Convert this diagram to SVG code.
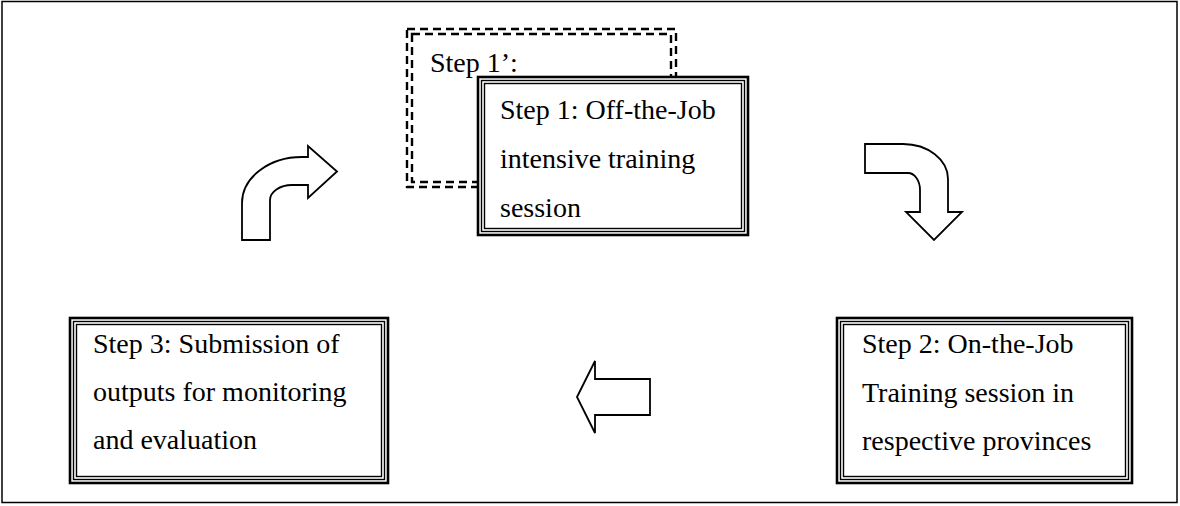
<svg xmlns="http://www.w3.org/2000/svg" width="1180" height="506" viewBox="0 0 1180 506">
<style>
.frame{fill:none;stroke:#000;stroke-width:1.5}
.dash{fill:none;stroke:#000;stroke-width:2.4;stroke-dasharray:8 5}
.o{fill:#fff;stroke:#000;stroke-width:2.6}
.m{fill:none;stroke:#000;stroke-width:1.4}
.i{fill:none;stroke:#000;stroke-width:1.4}
.arrow{fill:#fff;stroke:#000;stroke-width:1.8;stroke-linejoin:miter}
text{font-family:"Liberation Serif","Times New Roman",serif;font-size:28px;fill:#000}
</style>
<rect class="frame" x="2" y="1.5" width="1175" height="501"/>
<g id="step1prime">
<rect class="dash" x="407" y="29" width="269" height="158"/>
<rect class="dash" x="412" y="34" width="259" height="148"/>
<text x="430" y="72">Step 1’:</text>
</g>
<g id="step1">
<rect class="o" x="478" y="77" width="270" height="158"/>
<rect class="m" x="481.5" y="80.5" width="263" height="151"/>
<rect class="i" x="484.5" y="83.5" width="257" height="145"/>
<text x="500" y="119">Step 1: Off-the-Job</text>
<text x="500" y="168">intensive training</text>
<text x="500" y="217">session</text>
</g>
<g id="step2">
<rect class="o" x="837" y="318" width="295" height="165"/>
<rect class="m" x="840.5" y="321.5" width="288" height="158"/>
<rect class="i" x="843.5" y="324.5" width="282" height="152"/>
<text x="862" y="353">Step 2: On-the-Job</text>
<text x="862" y="402">Training session in</text>
<text x="862" y="450">respective provinces</text>
</g>
<g id="step3">
<rect class="o" x="70" y="318" width="318" height="165"/>
<rect class="m" x="73.5" y="321.5" width="311" height="158"/>
<rect class="i" x="76.5" y="324.5" width="305" height="152"/>
<text x="93" y="353">Step 3: Submission of</text>
<text x="93" y="401">outputs for monitoring</text>
<text x="93" y="449">and evaluation</text>
</g>
<g id="connectors">
<path class="arrow" d="M242,240 L242,203 A60,46 0 0 1 302,157 L308,157 L308,146 L337,171.5 L308,198 L308,185 L292,185 A22,15 0 0 0 270,200 L270,240 Z"/>
<path class="arrow" d="M865,144 L903,144 A45,35 0 0 1 948,179 L948,212 L962,212 L934,240 L906,212 L920,212 L920,190 A12,17 0 0 0 908,173 L865,173 Z"/>
<path class="arrow" d="M577,397 L595,361 L595,379 L650,379 L650,415 L595,415 L595,433 Z"/>
</g>
</svg>
